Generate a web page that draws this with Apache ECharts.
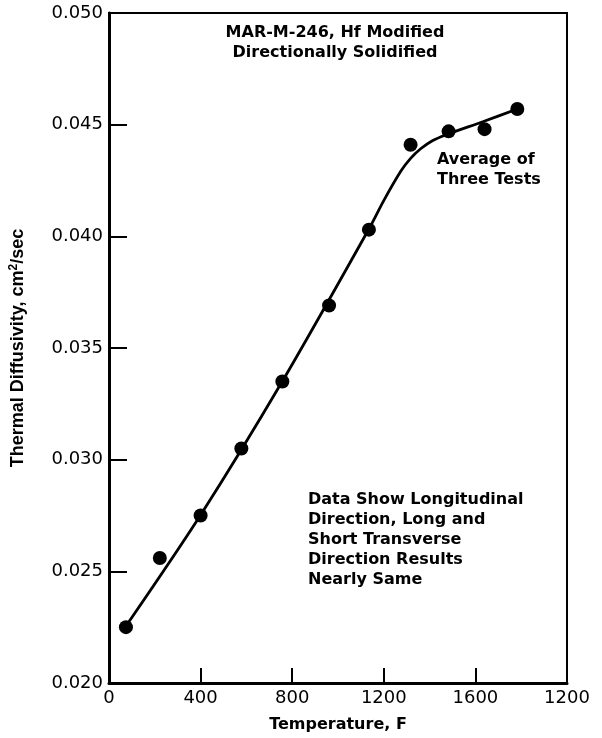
<!DOCTYPE html>
<html>
<head>
<meta charset="utf-8">
<script src="https://cdn.jsdelivr.net/npm/echarts@6/dist/echarts.min.js"></script>
<style>
  html, body { margin: 0; padding: 0; background: #fff; }
  #chart { width: 602px; height: 738px; }
</style>
</head>
<body>
<div id="chart"></div>
<script>
// Measured thermal diffusivity (average of three tests)
const tempF = [74, 222, 400, 578, 757, 961, 1135, 1317, 1483, 1640, 1783];
const diffusivity = [0.0225, 0.0256, 0.0275, 0.0305, 0.0335, 0.0369, 0.0403, 0.0441, 0.0447, 0.0448, 0.0457];

// Faired curve through the measurements
const curveTempF = [87, 400, 757, 1135, 1201, 1274, 1317, 1361, 1412, 1470, 1635, 1783];
const curveDiffusivity = [0.02274, 0.02752, 0.03351, 0.04033, 0.04162, 0.04291, 0.04349, 0.04392, 0.04428, 0.04454, 0.04514, 0.0457];

// Axis ticks as printed on the chart
const xTicks = [0, 400, 800, 1200, 1600, 2000];
const xTickLabels = ['0', '400', '800', '1200', '1600', '1200'];
const yTicks = [0.020, 0.025, 0.030, 0.035, 0.040, 0.045, 0.050];

const chart = echarts.init(document.getElementById('chart'), null, { renderer: 'canvas' });

const boldFont = 'DejaVu Sans';
const noteStyle = {
  fontFamily: boldFont,
  fontWeight: 'bold',
  fontSize: 16,
  fill: '#000',
  lineHeight: 20
};

chart.setOption({
  animation: false,
  backgroundColor: '#fff',
  grid: {
    left: 107, right: 35, top: 13, bottom: 54,
    show: true, borderColor: '#000', borderWidth: 2
  },
  xAxis: {
    type: 'value',
    min: xTicks[0],
    max: xTicks[xTicks.length - 1],
    interval: 400,
    name: 'Temperature, F',
    nameLocation: 'middle',
    nameGap: 34,
    nameTextStyle: { fontFamily: boldFont, fontWeight: 'bold', fontSize: 16, color: '#000' },
    axisLine: { show: true, lineStyle: { color: '#000', width: 3 } },
    axisTick: { show: true, inside: true, length: 15, lineStyle: { color: '#000', width: 2 } },
    splitLine: { show: false },
    axisLabel: {
      color: '#000', fontFamily: 'DejaVu Sans', fontSize: 18, margin: 6,
      formatter: function (v) {
        const i = xTicks.indexOf(v);
        return i >= 0 ? xTickLabels[i] : '';
      }
    }
  },
  yAxis: {
    type: 'value',
    min: yTicks[0],
    max: yTicks[yTicks.length - 1],
    interval: 0.005,
    name: '{t|Thermal Diffusivity, cm}{s|2}{t|/sec}',
    nameLocation: 'middle',
    nameGap: 80,
    nameTextStyle: {
      rich: {
        t: { fontFamily: 'Liberation Sans', fontWeight: 'bold', fontSize: 18, color: '#000' },
        s: { fontFamily: 'Liberation Sans', fontWeight: 'bold', fontSize: 12, color: '#000', verticalAlign: 'top', padding: [0, 0, 9, 0] }
      }
    },
    axisLine: { show: true, lineStyle: { color: '#000', width: 3 } },
    axisTick: { show: true, inside: true, length: 18, lineStyle: { color: '#000', width: 2 } },
    splitLine: { show: false },
    axisLabel: {
      color: '#000', fontFamily: 'DejaVu Sans', fontSize: 18, margin: 6,
      formatter: function (v) { return v.toFixed(3); }
    }
  },
  series: [
    {
      type: 'line',
      data: curveTempF.map((t, i) => [t, curveDiffusivity[i]]),
      smooth: 0.3,
      showSymbol: false,
      symbol: 'none',
      lineStyle: { color: '#000', width: 2.8 },
      z: 2
    },
    {
      type: 'scatter',
      data: tempF.map((t, i) => [t, diffusivity[i]]),
      symbol: 'circle',
      symbolSize: 14,
      itemStyle: { color: '#000', opacity: 1 },
      z: 3
    }
  ],
  graphic: [
    {
      type: 'text', x: 335, y: 23,
      style: Object.assign({}, noteStyle, {
        text: 'MAR-M-246, Hf Modified\nDirectionally Solidified',
        textAlign: 'center'
      })
    },
    {
      type: 'text', x: 437, y: 150,
      style: Object.assign({}, noteStyle, { text: 'Average of\nThree Tests' })
    },
    {
      type: 'text', x: 308, y: 490,
      style: Object.assign({}, noteStyle, {
        text: 'Data Show Longitudinal\nDirection, Long and\nShort Transverse\nDirection Results\nNearly Same'
      })
    }
  ]
});
</script>
</body>
</html>
